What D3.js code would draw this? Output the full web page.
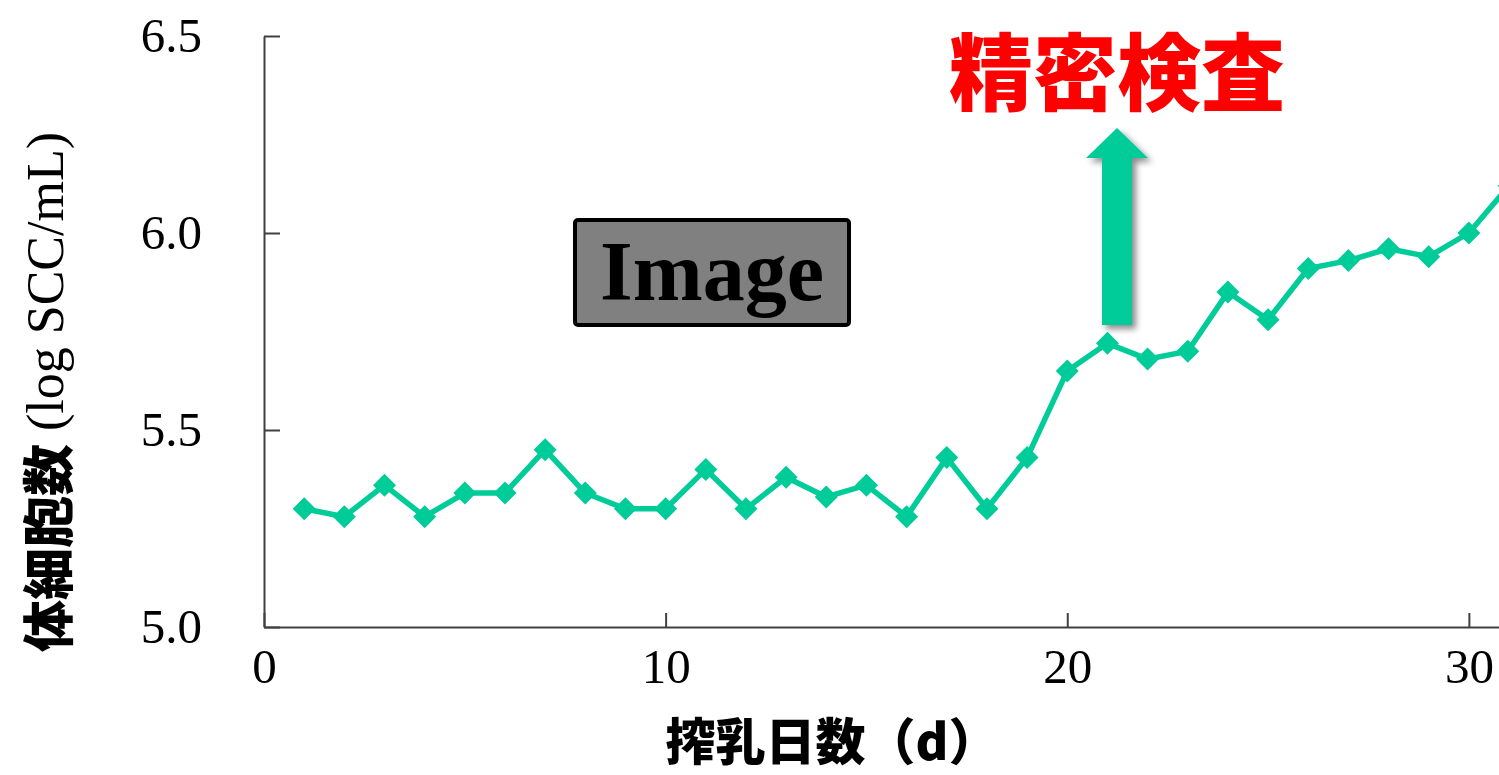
<!DOCTYPE html>
<html><head><meta charset="utf-8">
<script src="https://cdn.jsdelivr.net/npm/d3@7"></script>
<style>
html,body{margin:0;padding:0;background:#fff;overflow:hidden;}
svg{display:block;}
</style></head>
<body>
<svg id="c" width="1499" height="775"></svg>
<script>
const days = [1,2,3,4,5,6,7,8,9,10,11,12,13,14,15,16,17,18,19,20,21,22,23,24,25,26,27,28,29,30,31];
const scc  = [5.30,5.28,5.36,5.28,5.34,5.34,5.45,5.34,5.30,5.30,5.40,5.30,5.38,5.33,5.36,5.28,5.43,5.30,5.43,5.65,5.72,5.68,5.70,5.85,5.78,5.91,5.93,5.96,5.94,6.00,6.12];
const xTicks = [0,10,20,30];
const yTicks = [5.0,5.5,6.0,6.5];
const yTitleJa = "体細胞数";
const yTitleEn = " (log SCC/mL)";
const xTitle = "搾乳日数（d）";
const noteText = "精密検査";
const imageText = "Image";

const svg = d3.select("#c");
const x = d3.scaleLinear().domain([0, 30.75]).range([264, 1499]);
const y = d3.scaleLinear().domain([5.0, 6.5]).range([627, 36]);
const green = "#00CC99";
const axisColor = "#404040";

// axes
const gx = svg.append("g").attr("transform", `translate(0,${y(5.0)})`)
  .call(d3.axisBottom(x).tickValues(xTicks).tickFormat(d3.format("d")).tickSizeInner(-14).tickSizeOuter(0).tickPadding(21));
const gy = svg.append("g").attr("transform", `translate(${x(0)},0)`)
  .call(d3.axisLeft(y).tickValues(yTicks).tickFormat(d3.format(".1f")).tickSizeInner(-16).tickSizeOuter(0).tickPadding(62));
[gx, gy].forEach(g => {
  g.selectAll("path.domain").attr("stroke", axisColor).attr("stroke-width", 2);
  g.selectAll(".tick line").attr("stroke", axisColor).attr("stroke-width", 2);
  g.selectAll(".tick text").attr("fill", "#000").attr("font-family", "Liberation Serif, Times New Roman, serif").attr("font-size", 49);
});
gx.selectAll(".tick text").attr("dy", "0.71em");

// line + markers
const line = d3.line().x((d,i) => x(days[i])).y(d => y(d));
svg.append("path").datum(scc).attr("d", line).attr("fill", "none")
  .attr("stroke", green).attr("stroke-width", 5.5).attr("stroke-linejoin", "round");
svg.append("g").selectAll("path").data(scc).join("path")
  .attr("transform", (d,i) => `translate(${x(days[i])},${y(d)})`)
  .attr("d", "M0,-11.5L11.5,0L0,11.5L-11.5,0Z").attr("fill", green);

// y title
const yt = svg.append("text").attr("transform", "translate(45,392) rotate(-90)")
  .attr("text-anchor", "middle").attr("dominant-baseline", "central").attr("fill", "#000");
yt.append("tspan").attr("font-family", "Noto Sans CJK JP").attr("font-weight", 900).attr("font-size", 52).text(yTitleJa);
yt.append("tspan").attr("font-family", "Liberation Serif, serif").attr("font-size", 52).text(yTitleEn);

// x title
svg.append("text").attr("x", 832).attr("y", 760).attr("text-anchor", "middle")
  .attr("font-family", "Noto Sans CJK JP").attr("font-weight", 900).attr("font-size", 50)
  .attr("fill", "#000").text(xTitle);

// Image box
svg.append("rect").attr("x", 575).attr("y", 220).attr("width", 274).attr("height", 105).attr("rx", 3)
  .attr("fill", "#808080").attr("stroke", "#000").attr("stroke-width", 4);
svg.append("text").attr("x", 712).attr("y", 300).attr("text-anchor", "middle")
  .attr("font-family", "Liberation Serif, serif").attr("font-weight", "bold").attr("font-size", 84).attr("fill", "#000").text(imageText);

// arrow with shadow
const defs = svg.append("defs");
const f = defs.append("filter").attr("id", "sh").attr("x", "-50%").attr("y", "-50%").attr("width", "200%").attr("height", "200%");
f.append("feDropShadow").attr("dx", 4).attr("dy", 4).attr("stdDeviation", 3).attr("flood-color", "#000").attr("flood-opacity", 0.45);
const ax = 1117;
svg.append("path").attr("filter", "url(#sh)").attr("fill", green)
  .attr("d", `M${ax},128 L${ax+31},158 L${ax+15},158 L${ax+15},325 L${ax-15},325 L${ax-15},158 L${ax-31},158 Z`);

// note text
svg.append("text").attr("x", 1117).attr("y", 104).attr("text-anchor", "middle")
  .attr("font-family", "Noto Sans CJK JP").attr("font-weight", 900).attr("font-size", 84).attr("fill", "#FF0000").text(noteText);
</script>
</body></html>
